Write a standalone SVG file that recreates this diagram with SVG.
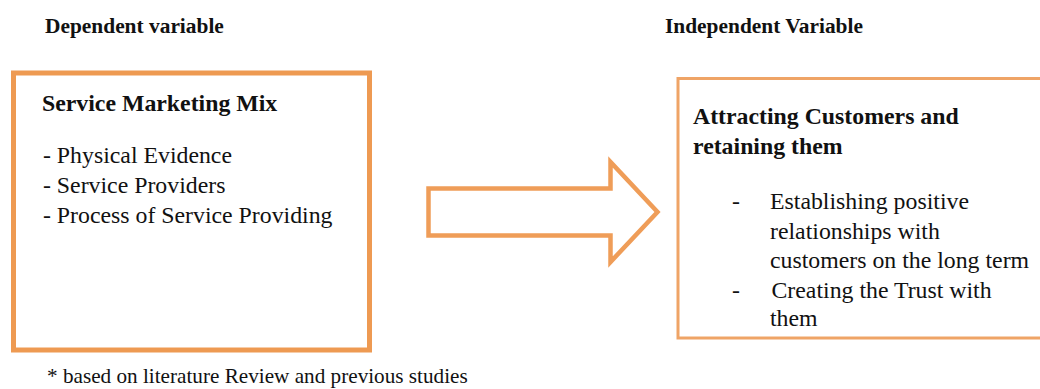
<svg xmlns="http://www.w3.org/2000/svg" width="1040" height="389" viewBox="0 0 1040 389">
  <style>
    text { font-family: 'Liberation Serif', 'Times New Roman', serif; fill: #111; }
    .hdr { font-weight: bold; font-size: 21.4px; }
    .ttl { font-weight: bold; font-size: 23.8px; }
    .txt { font-size: 23.8px; }
    .note { font-size: 21.2px; }
    .boxL { fill: #fff; stroke: #EE9A52; stroke-width: 5; }
    .boxR { fill: #fff; stroke: #EFA466; stroke-width: 3; }
    .arrow { fill: #fff; stroke: #EF9D58; stroke-width: 4.5; stroke-linejoin: miter; }
  </style>
  <rect width="1040" height="389" fill="#fff"/>
  <g id="label-dependent">
    <text class="hdr" x="45" y="32.5">Dependent variable</text>
  </g>
  <g id="label-independent">
    <text class="hdr" x="665" y="32.5">Independent Variable</text>
  </g>
  <g id="node-service-marketing-mix">
    <rect class="boxL" x="13.5" y="73" width="356" height="277"/>
    <text class="ttl" x="42" y="110.5">Service Marketing Mix</text>
    <text class="txt" x="43" y="163">- Physical Evidence</text>
    <text class="txt" x="43" y="193">- Service Providers</text>
    <text class="txt" x="43" y="222.5">- Process of Service Providing</text>
  </g>
  <g id="connectors">
    <polygon class="arrow" points="428.5,188.5 610.5,188.5 610.5,162 657.5,212 610.5,262 610.5,235.5 428.5,235.5"/>
  </g>
  <g id="node-attracting-customers">
    <rect class="boxR" x="678" y="78.5" width="380" height="259.5"/>
    <text class="ttl" x="693" y="123.5">Attracting Customers and</text>
    <text class="ttl" x="693" y="153.5">retaining them</text>
    <text class="txt" x="732" y="209">-</text>
    <text class="txt" x="770" y="209">Establishing positive</text>
    <text class="txt" x="770" y="238.5">relationships with</text>
    <text class="txt" x="770" y="268">customers on the long term</text>
    <text class="txt" x="732" y="297.5">-</text>
    <text class="txt" x="771.5" y="297.5">Creating the Trust with</text>
    <text class="txt" x="770" y="326">them</text>
  </g>
  <g id="footnote">
    <text class="note" x="47" y="383">* based on literature Review and previous studies</text>
  </g>
</svg>
